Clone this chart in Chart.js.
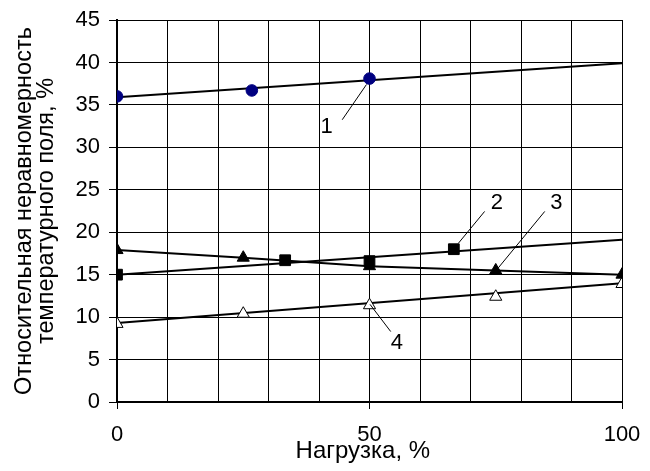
<!DOCTYPE html>
<html>
<head>
<meta charset="utf-8">
<script src="https://cdn.jsdelivr.net/npm/chart.js@4/dist/chart.umd.min.js"></script>
<style>
  html, body { margin: 0; padding: 0; background: #fff; }
  #wrap { width: 650px; height: 471px; position: relative; }
</style>
</head>
<body>
<div id="wrap"><canvas id="c" width="650" height="471"></canvas></div>
<script>
// ---- data ----
const xLoad1 = [0, 26.7, 50];
const yCurve1 = [36.0, 36.7, 38.1];
const xTrend1 = [0, 100];
const yTrend1 = [35.9, 39.9];

const xLoad2 = [0, 33.3, 50, 66.7];
const yCurve2 = [15.0, 16.7, 16.6, 18.0];
const xTrend2 = [0, 100];
const yTrend2 = [15.0, 19.1];

const xLoad3 = [0, 25, 50, 75, 100];
const yCurve3 = [17.9, 17.0, 16.0, 15.5, 15.0];

const xLoad4 = [0, 25, 50, 75, 100];
const yCurve4 = [9.2, 10.4, 11.4, 12.4, 13.9];
const xTrend4 = [0, 100];
const yTrend4 = [9.3, 14.0];

const xTickLabels = [0, 50, 100];
const yTitleLines = ['Относительная неравномерность', 'температурного поля, %'];
const xTitle = 'Нагрузка, %';

// curve number labels: text, label position and leader line (in data units)
const curveLabels = ['1', '2', '3', '4'];
const labelAtX = [41.5, 75.2, 87.0, 55.4];
const labelAtY = [32.4, 23.4, 23.4, 6.95];
const leadFromX = [44.6, 72.8, 84.7, 54.2];
const leadFromY = [33.25, 22.45, 22.45, 8.3];
const leadToX = [49.4, 67.6, 75.5, 50.1];
const leadToY = [37.4, 18.7, 15.8, 11.5];

const FONT = "'Liberation Sans', Arial, sans-serif";

const pts = (xs, ys) => xs.map((x, i) => ({ x: x, y: ys[i] }));

const annotate = {
  id: 'curveLabels',
  afterDatasetsDraw(chart) {
    const ctx = chart.ctx;
    const xs = chart.scales.x, ys = chart.scales.y;
    ctx.save();
    ctx.strokeStyle = '#000';
    ctx.lineWidth = 1;
    for (let i = 0; i < curveLabels.length; i++) {
      ctx.beginPath();
      ctx.moveTo(xs.getPixelForValue(leadFromX[i]), ys.getPixelForValue(leadFromY[i]));
      ctx.lineTo(xs.getPixelForValue(leadToX[i]), ys.getPixelForValue(leadToY[i]));
      ctx.stroke();
    }
    ctx.fillStyle = '#000';
    ctx.font = '22px ' + FONT;
    ctx.textAlign = 'center';
    ctx.textBaseline = 'middle';
    for (let i = 0; i < curveLabels.length; i++) {
      ctx.fillText(curveLabels[i], xs.getPixelForValue(labelAtX[i]), ys.getPixelForValue(labelAtY[i]));
    }
    ctx.restore();
  }
};

new Chart(document.getElementById('c'), {
  type: 'scatter',
  data: {
    datasets: [
      { data: pts(xLoad1, yCurve1), showLine: false, pointStyle: 'circle', pointRadius: 5.8,
        backgroundColor: '#000080', borderColor: '#000080', borderWidth: 1, order: 1 },
      { data: pts(xLoad2, yCurve2), showLine: false, pointStyle: 'rect', pointRadius: 7.6,
        backgroundColor: '#000', borderColor: '#000', borderWidth: 1, order: 1 },
      { data: pts(xLoad3, yCurve3), showLine: true, pointStyle: 'triangle', pointRadius: 7,
        backgroundColor: '#000', borderColor: '#000', borderWidth: 2, pointBorderWidth: 1, order: 1 },
      { data: pts(xLoad4, yCurve4), showLine: false, pointStyle: 'triangle', pointRadius: 7,
        backgroundColor: '#fff', borderColor: '#000', borderWidth: 1, order: 1 },
      { data: pts(xTrend1, yTrend1), showLine: true, pointRadius: 0, borderColor: '#000', borderWidth: 2, order: 2 },
      { data: pts(xTrend2, yTrend2), showLine: true, pointRadius: 0, borderColor: '#000', borderWidth: 2, order: 2 },
      { data: pts(xTrend4, yTrend4), showLine: true, pointRadius: 0, borderColor: '#000', borderWidth: 2, order: 2 }
    ]
  },
  options: {
    responsive: false,
    animation: false,
    events: [],
    layout: { padding: { left: 0, right: 28, top: 20, bottom: 0 } },
    plugins: { legend: { display: false }, tooltip: { enabled: false } },
    scales: {
      x: {
        type: 'linear', min: 0, max: 100,
        afterFit(s) { s.height = 69; s.paddingLeft = 0; s.paddingRight = 0; },
        ticks: {
          stepSize: 10, padding: 13, maxRotation: 0, autoSkip: false,
          color: '#000', font: { family: FONT, size: 22 },
          callback: (v) => xTickLabels.includes(v) ? String(v) : ''
        },
        grid: {
          color: '#000', lineWidth: 1, tickLength: 7,
          tickColor: (c) => (c.tick && xTickLabels.includes(c.tick.value)) ? '#000' : 'rgba(0,0,0,0)'
        },
        border: { display: true, color: '#000', width: 2 },
        title: { display: true, text: xTitle + '  ', color: '#000', font: { family: FONT, size: 24, lineHeight: 1.2 }, padding: { top: 0, bottom: 5 } }
      },
      y: {
        type: 'linear', min: 0, max: 45,
        afterFit(s) { s.width = 117; s.paddingTop = 0; s.paddingBottom = 0; },
        ticks: { stepSize: 5, padding: 9, color: '#000', font: { family: FONT, size: 22 } },
        grid: { color: '#000', lineWidth: 1, tickLength: 8, tickColor: '#000' },
        border: { display: true, color: '#000', width: 2 },
        title: { display: true, text: yTitleLines, color: '#000', font: { family: FONT, size: 23.5, lineHeight: 0.96 }, padding: { top: 13, bottom: 0 } }
      }
    }
  },
  plugins: [annotate]
});
</script>
</body>
</html>
